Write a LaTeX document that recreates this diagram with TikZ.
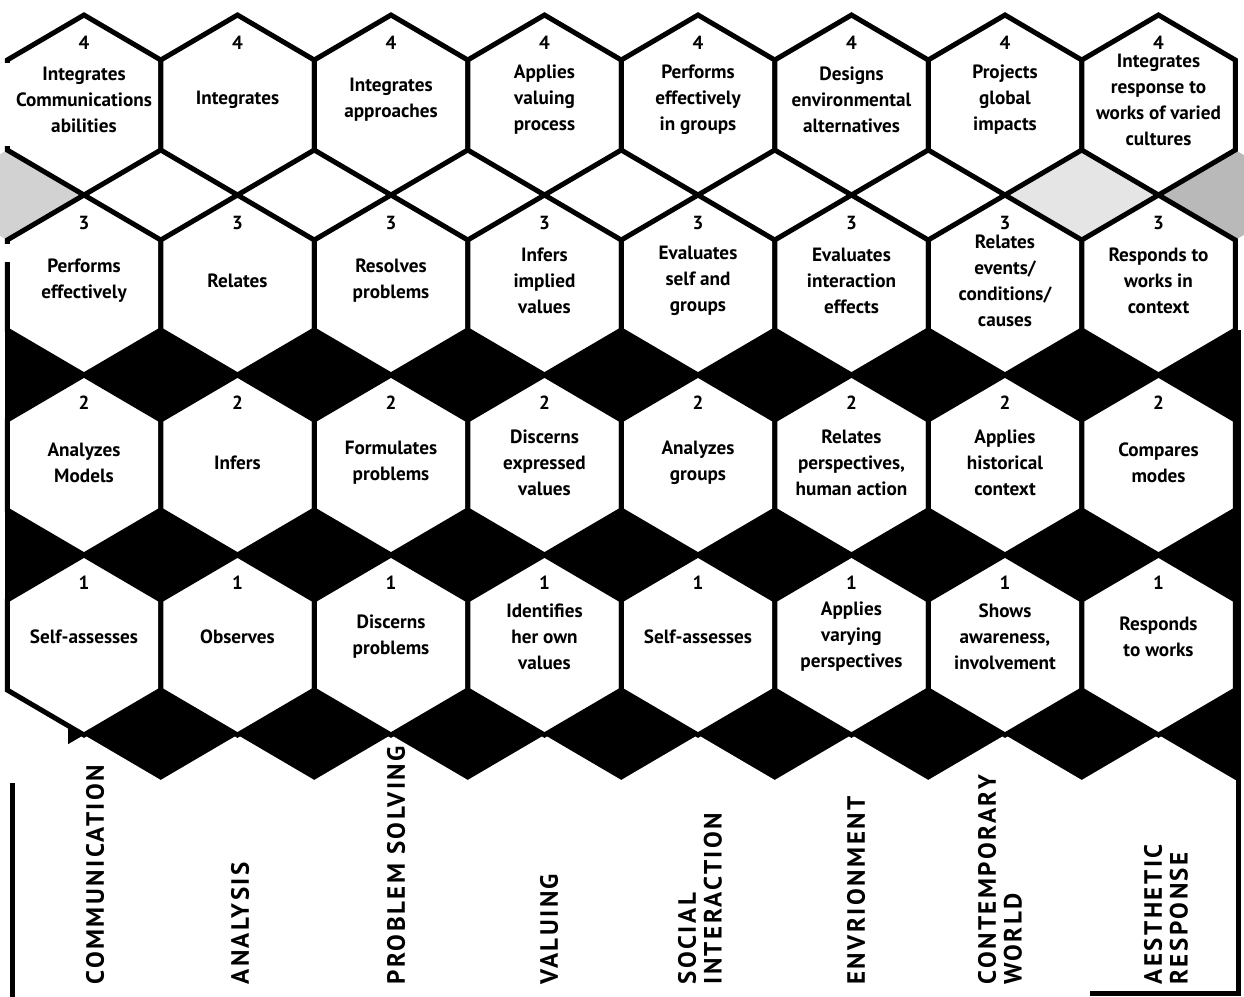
\documentclass[tikz,border=0pt]{standalone}
\usepackage{fontspec}
\setmainfont{PT Sans}
\newfontfamily\domainfont{PT Sans}[LetterSpace=10]
\begin{document}
\begin{tikzpicture}[x=0.5pt,y=-0.5pt]
\useasboundingbox (0,0) rectangle (1244,997);
\def\hw{76.75}
\newcommand\hexat[2]{(#1,#2-90) -- (#1+\hw,#2-45) -- (#1+\hw,#2+45) -- (#1,#2+90) -- (#1-\hw,#2+45) -- (#1-\hw,#2-45) -- cycle}
\newcommand\diamat[2]{(#1,#2-45) -- (#1+\hw,#2) -- (#1,#2+45) -- (#1-\hw,#2) -- cycle}
\tikzset{
  hexline/.style={draw=black, line width=2.5pt, line join=miter, fill=white},
  hextext/.style={font=\bfseries\fontsize{9.6}{13}\selectfont, align=center, inner sep=0pt},
  levelnum/.style={font=\bfseries\fontsize{9.5}{11}\selectfont, inner sep=0pt},
  domainlabel/.style={font=\domainfont\bfseries\fontsize{12.5}{12.8}\selectfont, rotate=90, anchor=west, align=left, inner sep=0pt},
  speckle/.style={fill=gray!#1}
}
% speckled (gray) diamonds between levels 4 and 3
\fill[speckle=35] \diamat{7.25}{195};
\fill[speckle=20] \diamat{1081.75}{195};
\fill[speckle=55] \diamat{1235.25}{195};
% black background between lower levels
\fill[black] (4.5,330) rectangle (1241,690);
\fill[black] (68,690) rectangle (1241,780);
% white hexagons of the label area (carve the lower zigzag)
\foreach \c in {1,...,8}{
  \pgfmathsetmacro\cx{84+(\c-1)*153.5}
  \fill[white] \hexat{\cx}{825};
}
% hexagon grid, levels 1 to 4
\foreach \r/\cy in {1/645,2/465,3/285,4/105}{
  \foreach \c in {1,...,8}{
    \pgfmathsetmacro\cx{84+(\c-1)*153.5}
    \path[hexline] \hexat{\cx}{\cy};
    \pgfmathsetmacro\ny{\cy-62}
    \node[levelnum] (n\r-\c) at (\cx,\ny) {\r};
  }
}
% cut-off left edge of the first column at the top
\fill[white] (0,63) rectangle (10.5,146);
\fill[white] (0,244) rectangle (10.5,262);
% border lines
\draw[line width=2.5pt] (12,783) -- (12,997);
\draw[line width=2.5pt] (1238,690) -- (1238,993) -- (1090,993);
% level 4 texts
\foreach \c/\t in {1/{Integrates\\Communications\\abilities},2/{Integrates},3/{Integrates\\approaches},4/{Applies\\valuing\\process},5/{Performs\\effectively\\in groups},6/{Designs\\environmental\\alternatives},7/{Projects\\global\\impacts},8/{Integrates\\response to\\works of varied\\cultures}}{
  \pgfmathsetmacro\cx{84+(\c-1)*153.5}
  \node[hextext] (t4-\c) at (\cx,100) {\t};
}
% level 3 texts
\foreach \c/\t in {1/{Performs\\effectively},2/{Relates},3/{Resolves\\problems},4/{Infers\\implied\\values},5/{Evaluates\\self and\\groups},6/{Evaluates\\interaction\\effects},7/{Relates\\events/\\conditions/\\causes},8/{Responds to\\works in\\context}}{
  \pgfmathsetmacro\cx{84+(\c-1)*153.5}
  \node[hextext] (t3-\c) at (\cx,281) {\t};
}
% level 2 texts
\foreach \c/\t in {1/{Analyzes\\Models},2/{Infers},3/{Formulates\\problems},4/{Discerns\\expressed\\values},5/{Analyzes\\groups},6/{Relates\\perspectives,\\human action},7/{Applies\\historical\\context},8/{Compares\\modes}}{
  \pgfmathsetmacro\cx{84+(\c-1)*153.5}
  \node[hextext] (t2-\c) at (\cx,463) {\t};
}
% level 1 texts
\foreach \c/\t in {1/{Self-assesses},2/{Observes},3/{Discerns\\problems},4/{Identifies\\her own\\values},5/{Self-assesses},6/{Applies\\varying\\perspectives},7/{Shows\\awareness,\\involvement},8/{Responds\\to works}}{
  \pgfmathsetmacro\cx{84+(\c-1)*153.5}
  \node[hextext] (t1-\c) at (\cx,637) {\t};
}
% domain labels
\node[domainlabel] (dCOM) at (95,985) {COMMUNICATION};
\node[domainlabel] (dANA) at (240,985) {ANALYSIS};
\node[domainlabel] (dPS)  at (396,985) {PROBLEM SOLVING};
\node[domainlabel] (dVAL) at (549,985) {VALUING};
\node[domainlabel] (dSOC) at (700,985) {SOCIAL\\INTERACTION};
\node[domainlabel] (dENV) at (856,985) {ENVRIONMENT};
\node[domainlabel] (dCON) at (1000,985) {CONTEMPORARY\\WORLD};
\node[domainlabel] (dAES) at (1166,985) {AESTHETIC\\RESPONSE};
\end{tikzpicture}
\end{document}
